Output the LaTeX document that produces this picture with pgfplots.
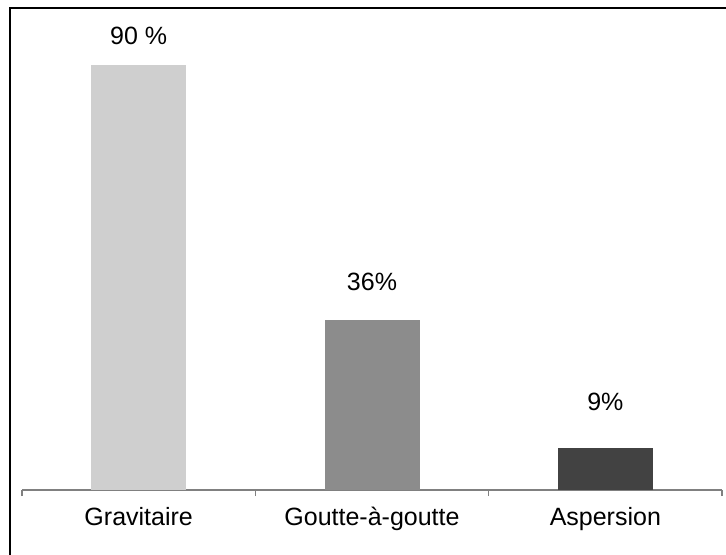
\documentclass[border=0pt]{standalone}
\usepackage{pgfplots}
\pgfplotsset{compat=1.18}
\usepackage{fontspec}
\setmainfont{Liberation Sans}
\definecolor{barA}{RGB}{207,207,207}
\definecolor{barB}{RGB}{140,140,140}
\definecolor{barC}{RGB}{66,66,66}
\definecolor{axisgray}{RGB}{128,128,128}
\begin{document}
\begin{tikzpicture}
\useasboundingbox (0,0) rectangle (363pt,277.5pt);
\fill[white] (0,0) rectangle (363pt,277.5pt);
\draw[line width=1.1pt] (4.9pt,0) -- (4.9pt,273.3pt) -- (363pt,273.3pt);
\begin{axis}[
  at={(11pt,32.5pt)}, anchor=south west,
  scale only axis, width=350pt, height=236.1pt,
  xmin=-0.5, xmax=2.5, ymin=0, ymax=100,
  axis x line*=bottom, axis y line=none,
  x axis line style={-, axisgray, line width=0.7pt},
  ybar, bar width=47.5pt,
  xtick={0,1,2},
  xticklabels={Gravitaire,Goutte-à-goutte,Aspersion},
  major tick length=0pt,
  minor xtick={-0.5,0.5,1.5,2.5},
  minor tick length=3pt,
  tick align=outside,
  minor tick style={axisgray, line width=0.7pt},
  xticklabel style={font=\fontsize{12.5}{14}\selectfont, yshift=-5pt},
  clip=false,
]
\addplot[bar shift=0pt, fill=barA, draw=none,
  nodes near coords={90 \%},
  nodes near coords style={font=\fontsize{12.5}{14}\selectfont, yshift=6.5pt}]
  coordinates {(0,90)};
\addplot[bar shift=0pt, fill=barB, draw=none,
  nodes near coords={36\%},
  nodes near coords style={font=\fontsize{12.5}{14}\selectfont, yshift=11pt}]
  coordinates {(1,36)};
\addplot[bar shift=0pt, fill=barC, draw=none,
  nodes near coords={9\%},
  nodes near coords style={font=\fontsize{12.5}{14}\selectfont, yshift=15pt}]
  coordinates {(2,9)};
\end{axis}
\end{tikzpicture}
\end{document}
